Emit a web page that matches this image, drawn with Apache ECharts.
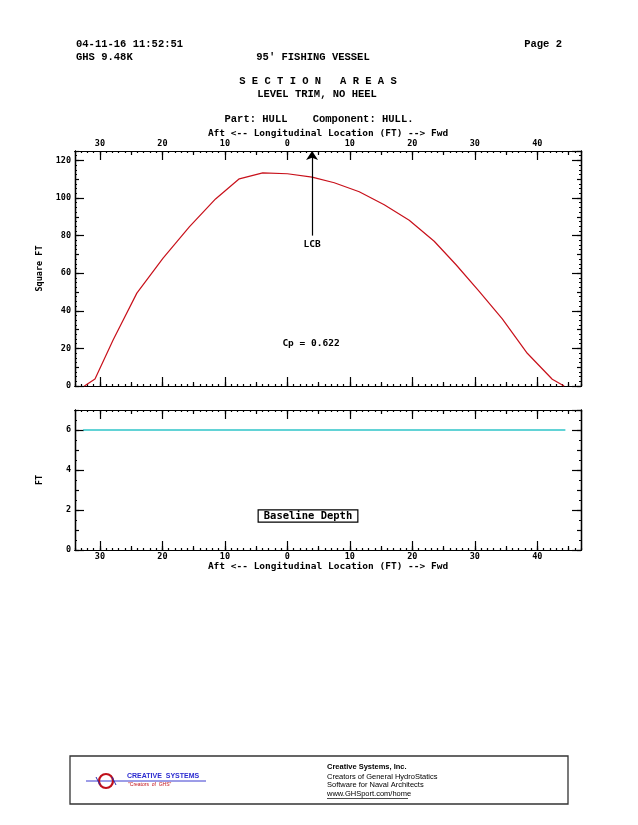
<!DOCTYPE html>
<html>
<head>
<meta charset="utf-8">
<script src="https://cdn.jsdelivr.net/npm/echarts@6/dist/echarts.min.js"></script>
<style>
html,body{margin:0;padding:0;background:#fff;}
#main{width:638px;height:825px;}
</style>
</head>
<body>
<div id="main"></div>
<script>
// ---- data (x in ft, negative = aft) ----
const stationX = [-32.5, -30.8, -27.9, -24.1, -19.9, -15.7, -11.5, -7.7, -3.95, 0, 3.95, 7.5, 11.5, 15.5, 19.5, 23.5, 27, 30.7, 34.4, 38.4, 42.4, 44.3];
const sectionArea = [0, 3.7, 24.5, 49.4, 68, 84.6, 99.5, 110.2, 113.4, 112.9, 111.1, 108.1, 103.3, 96.4, 88.2, 77, 64.5, 50.3, 35.7, 17.4, 3.6, 0];
const depthX = [-32.7, 44.5];
const baselineDepth = [6, 6];
const lcbX = 3.95;
const lcbArrowFrom = 80;
const cpText = 'Cp = 0.622';

// ---- axis ticks ----
const xMin = -34, xMax = 47;
const xMajorTicks = [-30, -20, -10, 0, 10, 20, 30, 40];
const xMidTicks = [-30, -25, -20, -15, -10, -5, 0, 5, 10, 15, 20, 25, 30, 35, 40, 45];
const areaMax = 125;
const depthMax = 7;

const xTitle = 'Aft <-- Longitudinal Location (FT) --> Fwd';
const labelFont = {fontFamily: 'DejaVu Sans Mono', fontWeight: 'bold', fontSize: 8.5, color: '#000'};
const nameFont = {fontFamily: 'DejaVu Sans Mono', fontWeight: 'bold', fontSize: 9.5, color: '#000'};
const headFont = '"Liberation Mono", "DejaVu Sans Mono", monospace';

const lineStyle = {color: '#000', width: 1.2};

function xAxes(grid, position, withLabels) {
  const base = {type: 'value', gridIndex: grid, position: position, min: xMin, max: xMax,
    splitLine: {show: false}, axisLine: {show: true, onZero: false, lineStyle: lineStyle}};
  return [
    Object.assign({}, base, {interval: 1, axisLabel: {show: false},
      axisTick: {show: true, inside: true, length: 2, lineStyle: lineStyle}}),
    Object.assign({}, base, {axisLabel: {show: false},
      axisTick: {show: true, inside: true, length: 4, customValues: xMidTicks, lineStyle: lineStyle}}),
    Object.assign({}, base, {
      axisTick: {show: true, inside: true, length: 9, customValues: xMajorTicks, lineStyle: lineStyle},
      axisLabel: Object.assign({show: withLabels, customValues: xMajorTicks, margin: position === 'top' ? 3 : 2,
        formatter: v => String(Math.abs(v))}, labelFont),
      name: withLabels ? xTitle : '', nameLocation: 'middle', nameGap: position === 'top' ? 12 : 11.5,
      nameMoveOverlap: false,
      nameTextStyle: nameFont})
  ];
}

function yAxes(grid, position, max, minorI, midI, majorI, withLabels, name) {
  const base = {type: 'value', gridIndex: grid, position: position, min: 0, max: max,
    splitLine: {show: false}, axisLine: {show: true, onZero: false, lineStyle: lineStyle}};
  return [
    Object.assign({}, base, {interval: minorI, axisLabel: {show: false},
      axisTick: {show: true, inside: true, length: 2, lineStyle: lineStyle}}),
    Object.assign({}, base, {interval: midI, axisLabel: {show: false},
      axisTick: {show: true, inside: true, length: 4, lineStyle: lineStyle}}),
    Object.assign({}, base, {interval: majorI,
      axisTick: {show: true, inside: true, length: 9, lineStyle: lineStyle},
      axisLabel: Object.assign({show: withLabels, margin: 4, showMaxLabel: false}, labelFont),
      name: withLabels ? name : '', nameLocation: 'middle', nameRotate: 90, nameGap: 31,
      nameMoveOverlap: false,
      nameTextStyle: labelFont})
  ];
}

const xAxis = [].concat(
  xAxes(0, 'top', true),     // 0,1,2
  xAxes(0, 'bottom', false), // 3,4,5
  xAxes(1, 'top', false),    // 6,7,8
  xAxes(1, 'bottom', true)   // 9,10,11
);
const yAxis = [].concat(
  yAxes(0, 'left', areaMax, 2.5, 10, 20, true, 'Square FT'), // 0,1,2
  yAxes(0, 'right', areaMax, 2.5, 10, 20, false, ''),        // 3,4,5
  yAxes(1, 'left', depthMax, 0.5, 1, 2, true, 'FT'),         // 6,7,8
  yAxes(1, 'right', depthMax, 0.5, 1, 2, false, '')          // 9,10,11
);

const headStyle = (x, y, text, align, size) => ({type: 'text', x: x, y: y,
  style: {text: text, x: 0, y: 0, fill: '#000', font: 'bold ' + (size || 10.5) + 'px ' + headFont,
    textAlign: align || 'left', textVerticalAlign: 'middle'}, silent: true});

const footFont = '"Liberation Sans", Arial, sans-serif';

const option = {
  animation: false,
  backgroundColor: '#fff',
  grid: [
    {left: 75, right: 57, top: 151, height: 235},
    {left: 75, right: 57, top: 410, height: 140}
  ],
  xAxis: xAxis,
  yAxis: yAxis,
  series: [
    {type: 'line', xAxisIndex: 2, yAxisIndex: 2, clip: false, data: stationX.map((x, i) => [x, sectionArea[i]]),
      showSymbol: false, symbol: 'none', lineStyle: {color: '#c8101a', width: 1.2},
      markLine: {silent: true, symbol: ['none', 'arrow'], symbolSize: 9,
        lineStyle: {color: '#000', width: 1.2, type: 'solid'},
        label: {show: true, position: 'start', formatter: 'LCB', distance: 4,
          fontFamily: 'DejaVu Sans Mono', fontWeight: 'bold', fontSize: 9.5, color: '#000'},
        data: [[{coord: [lcbX, lcbArrowFrom]}, {coord: [lcbX, areaMax]}]]}},
    {type: 'line', xAxisIndex: 11, yAxisIndex: 8, data: depthX.map((x, i) => [x, baselineDepth[i]]),
      showSymbol: false, symbol: 'none', lineStyle: {color: '#2ec4c8', width: 1.4}}
  ],
  graphic: [
    headStyle(76, 44, '04-11-16 11:52:51'),
    headStyle(562, 44, 'Page 2', 'right'),
    headStyle(76, 57, 'GHS 9.48K'),
    headStyle(313, 57, "95' FISHING VESSEL", 'center'),
    headStyle(318, 81, 'S E C T I O N   A R E A S', 'center'),
    headStyle(317, 94, 'LEVEL TRIM, NO HEEL', 'center'),
    headStyle(319, 119, 'Part: HULL    Component: HULL.', 'center'),
    {type: 'text', x: 311, y: 344, silent: true,
      style: {text: cpText, fill: '#000', font: 'bold 9.5px "DejaVu Sans Mono"', textAlign: 'center', textVerticalAlign: 'middle'}},
    {type: 'text', x: 308, y: 516, silent: true,
      style: {text: 'Baseline Depth', fill: '#000', font: 'bold 10.5px "DejaVu Sans Mono"', textAlign: 'center', textVerticalAlign: 'middle',
        backgroundColor: '#fff', borderColor: '#000', borderWidth: 1.2, padding: [0, 5, 0, 5]}},
    // footer
    {type: 'rect', silent: true, shape: {x: 70, y: 756, width: 498, height: 48},
      style: {fill: '#fff', stroke: '#333', lineWidth: 1.3}},
    {type: 'line', silent: true, shape: {x1: 86, y1: 781, x2: 206, y2: 781}, style: {stroke: '#3a3ad0', lineWidth: 1}},
    {type: 'circle', silent: true, shape: {cx: 106, cy: 781, r: 7}, style: {fill: 'none', stroke: '#c0101a', lineWidth: 2.2}},
    {type: 'line', silent: true, shape: {x1: 96, y1: 777, x2: 100, y2: 785}, style: {stroke: '#2a2ab0', lineWidth: 1}},
    {type: 'line', silent: true, shape: {x1: 112, y1: 777, x2: 116, y2: 785}, style: {stroke: '#2a2ab0', lineWidth: 1}},
    {type: 'text', x: 127, y: 776.5, silent: true,
      style: {text: 'CREATIVE  SYSTEMS', fill: '#2a2ad0', font: 'bold 7px ' + footFont, textVerticalAlign: 'middle'}},
    {type: 'text', x: 128, y: 785, silent: true,
      style: {text: '"Creators  of  GHS"', fill: '#c0101a', font: '5px ' + footFont, textVerticalAlign: 'middle'}},
    {type: 'text', x: 327, y: 767, silent: true,
      style: {text: 'Creative Systems, Inc.', fill: '#000', font: 'bold 7.5px ' + footFont, textVerticalAlign: 'middle'}},
    {type: 'text', x: 327, y: 776.5, silent: true,
      style: {text: 'Creators of General HydroStatics', fill: '#000', font: '7.5px ' + footFont, textVerticalAlign: 'middle'}},
    {type: 'text', x: 327, y: 785, silent: true,
      style: {text: 'Software for Naval Architects', fill: '#000', font: '7.5px ' + footFont, textVerticalAlign: 'middle'}},
    {type: 'text', x: 327, y: 794, silent: true,
      style: {text: 'www.GHSport.com/home', fill: '#000', font: '7.5px ' + footFont, textVerticalAlign: 'middle'}},
    {type: 'line', silent: true, shape: {x1: 327, y1: 798.5, x2: 408, y2: 798.5}, style: {stroke: '#000', lineWidth: 0.7}}
  ]
};

const chart = echarts.init(document.getElementById('main'), null, {renderer: 'canvas'});
chart.setOption(option);
</script>
</body>
</html>
